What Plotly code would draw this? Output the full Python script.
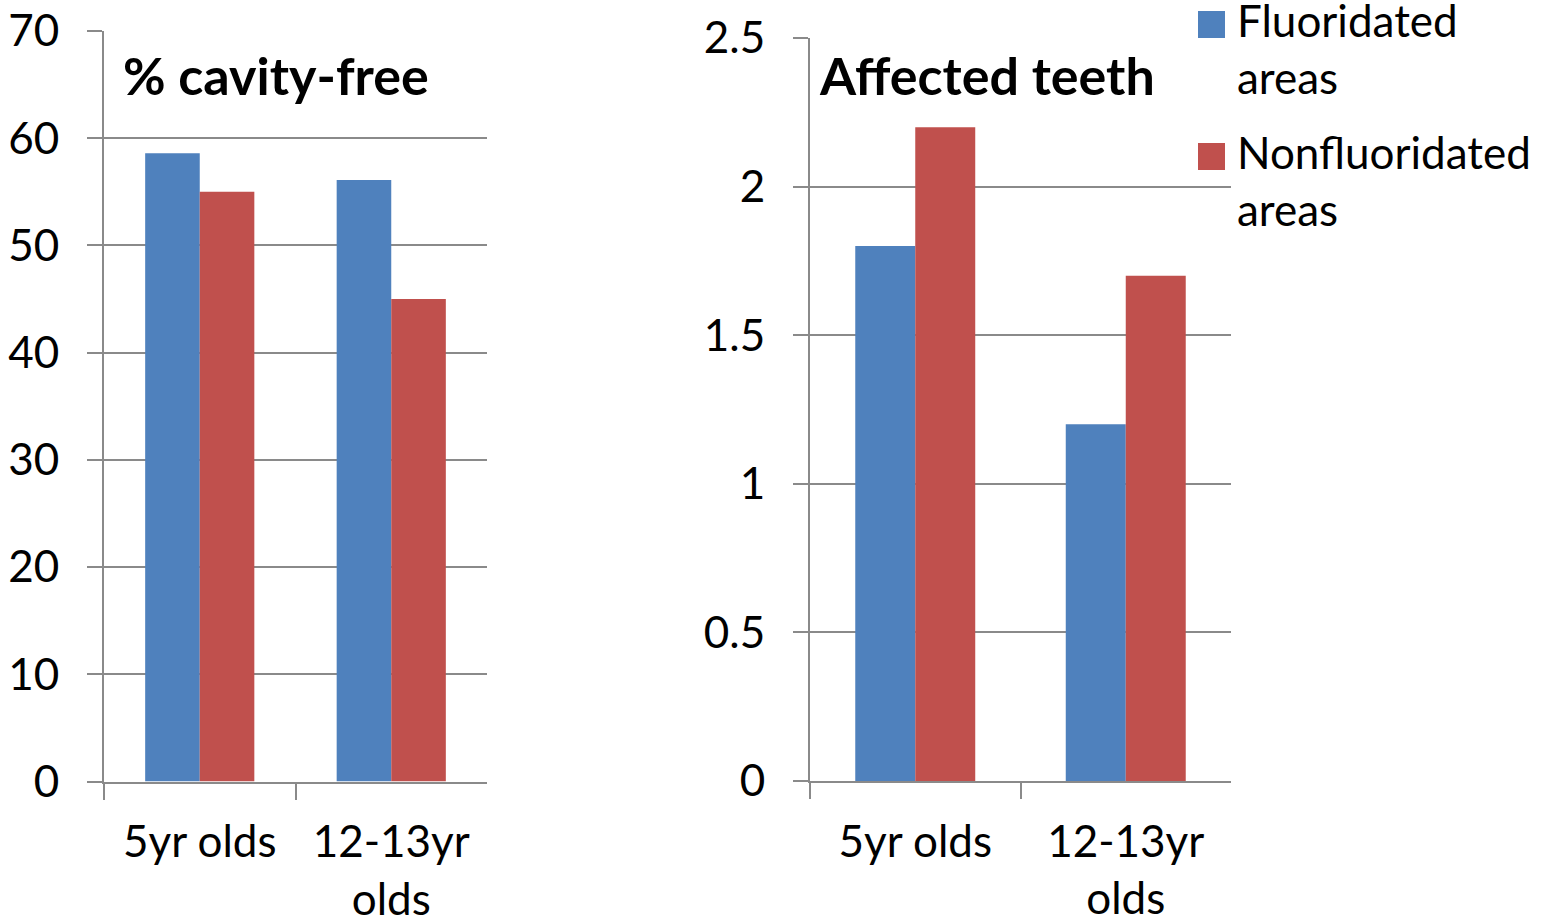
import plotly.graph_objects as go

# ---------------- data ----------------
categories = ["5yr olds", "12-13yr<br>olds"]
series_names = ["Fluoridated<br>areas", "Nonfluoridated<br>areas"]
series_colors = ["#4F81BD", "#C0504D"]

cavity_free_fluoridated = [58.6, 56.1]
cavity_free_nonfluoridated = [55.0, 45.0]

affected_fluoridated = [1.8, 1.2]
affected_nonfluoridated = [2.2, 1.7]

left_tickvals = [0, 10, 20, 30, 40, 50, 60, 70]
right_tickvals = [0, 0.5, 1, 1.5, 2, 2.5]
right_ticktext = ["0", "0.5", "1", "1.5", "2", "2.5"]

panel_titles = ["% cavity-free", "Affected teeth"]

# ---------------- layout constants ----------------
W, H = 1546, 921
FONT = "Lato"
FS = 44
GRID = "#8A8A8A"

def px_x(x):
    return x / W

def px_y(y):
    return (H - y) / H

fig = go.Figure()

left_vals = [cavity_free_fluoridated, cavity_free_nonfluoridated]
right_vals = [affected_fluoridated, affected_nonfluoridated]

for i in range(2):
    fig.add_trace(go.Bar(x=categories, y=left_vals[i], name=series_names[i],
                         marker=dict(color=series_colors[i], line=dict(width=0)),
                         xaxis="x", yaxis="y", showlegend=False))
for i in range(2):
    fig.add_trace(go.Bar(x=categories, y=right_vals[i], name=series_names[i],
                         marker=dict(color=series_colors[i], line=dict(width=0)),
                         xaxis="x2", yaxis="y2", showlegend=False))

xcommon = dict(type="category", range=[-0.5, 1.5], showline=True, linecolor=GRID,
               linewidth=2, ticks="outside", tickson="boundaries", ticklen=16,
               tickcolor=GRID, tickwidth=2, showgrid=False, automargin=False,
               ticklabeloverflow="allow",
               tickfont=dict(family=FONT, size=FS, color="black"),
               ticklabelstandoff=21)
ycommon = dict(showgrid=True, gridcolor=GRID, gridwidth=2, showline=True,
               linecolor=GRID, linewidth=2, ticks="outside", ticklen=15,
               tickcolor=GRID, tickwidth=2, zeroline=False, automargin=False,
               ticklabeloverflow="allow",
               tickfont=dict(family=FONT, size=FS, color="black"),
               ticklabelstandoff=19)

fig.update_layout(
    width=W, height=H,
    margin=dict(l=0, r=0, t=0, b=0, pad=0),
    paper_bgcolor="white", plot_bgcolor="white",
    barmode="group", bargap=0.43, bargroupgap=0,
    showlegend=False,
    xaxis=dict(domain=[px_x(104), px_x(487)], anchor="y", **xcommon),
    yaxis=dict(domain=[px_y(781.5), px_y(31)], anchor="x", range=[0, 70],
               tickvals=left_tickvals, **ycommon),
    xaxis2=dict(domain=[px_x(810), px_x(1231)], anchor="y2", **xcommon),
    yaxis2=dict(domain=[px_y(781), px_y(38)], anchor="x2", range=[0, 2.5],
                tickvals=right_tickvals, ticktext=right_ticktext, **ycommon),
)

# panel titles
fig.add_annotation(text="<b>" + panel_titles[0] + "</b>", xref="paper", yref="paper",
                   x=px_x(121), y=px_y(75), xanchor="left", yanchor="middle",
                   showarrow=False, font=dict(family=FONT, size=52, color="black"))
fig.add_annotation(text="<b>" + panel_titles[1] + "</b>", xref="paper", yref="paper",
                   x=px_x(817), y=px_y(75), xanchor="left", yanchor="middle",
                   showarrow=False, font=dict(family=FONT, size=52, color="black"))

# legend (swatches + labels)
legend_tops = [11, 143]
for i in range(2):
    top = legend_tops[i]
    fig.add_shape(type="rect", xref="paper", yref="paper",
                  x0=px_x(1198), x1=px_x(1225), y0=px_y(top + 27), y1=px_y(top),
                  fillcolor=series_colors[i], line=dict(width=0))
    fig.add_annotation(text=series_names[i], xref="paper", yref="paper",
                       x=px_x(1235), y=px_y(top - 19), xanchor="left", yanchor="top",
                       align="left", showarrow=False,
                       font=dict(family=FONT, size=FS, color="black"))

fig.write_html("out.html",
               config={"displayModeBar": False},
               post_script="document.body.style.margin='0';document.body.style.overflow='hidden';")
